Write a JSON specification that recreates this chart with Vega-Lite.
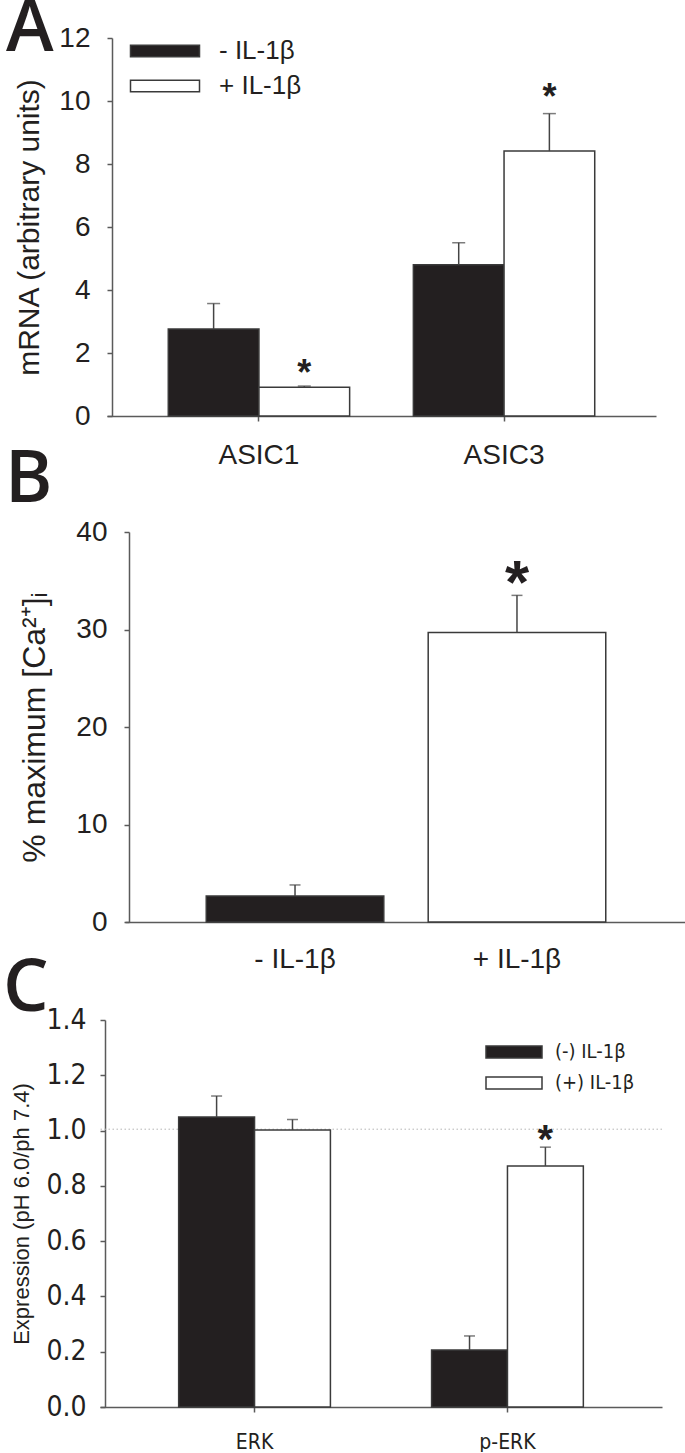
{
  "$schema": "https://vega.github.io/schema/vega-lite/v6.json",
  "padding": {"left": 3, "top": -7, "right": 0, "bottom": 0},
  "background": "white",
  "datasets": {
    "A": [
      {"gene": "ASIC1", "treat": "- IL-1β", "mean": 2.76, "upper": 3.57, "sig": null},
      {"gene": "ASIC1", "treat": "+ IL-1β", "mean": 0.91, "upper": 0.95, "sig": 1.64},
      {"gene": "ASIC3", "treat": "- IL-1β", "mean": 4.8, "upper": 5.5, "sig": null},
      {"gene": "ASIC3", "treat": "+ IL-1β", "mean": 8.41, "upper": 9.6, "sig": 10.4}
    ],
    "B": [
      {"treat": "- IL-1β", "mean": 2.67, "upper": 3.8, "sig": null},
      {"treat": "+ IL-1β", "mean": 29.7, "upper": 33.5, "sig": 35.9}
    ],
    "C": [
      {"prot": "ERK", "treat": "(-) IL-1β", "mean": 1.049, "upper": 1.125, "sig": null},
      {"prot": "ERK", "treat": "(+) IL-1β", "mean": 1.002, "upper": 1.04, "sig": null},
      {"prot": "p-ERK", "treat": "(-) IL-1β", "mean": 0.206, "upper": 0.257, "sig": null},
      {"prot": "p-ERK", "treat": "(+) IL-1β", "mean": 0.872, "upper": 0.94, "sig": 1.003}
    ],
    "ref": [{"level": 1.005}]
  },
  "config": {
    "view": {"stroke": null},
    "font": "Liberation Sans",
    "axis": {
      "domainColor": "#5a5a5a", "domainWidth": 1.5, "tickColor": "#5a5a5a", "tickWidth": 1.5, "tickSize": 5,
      "grid": false, "labelColor": "#231f20", "titleColor": "#231f20",
      "labelFont": "Liberation Sans", "titleFont": "Liberation Sans", "titleFontWeight": "normal"
    },
    "title": {"font": "Open Sans", "fontWeight": 600, "color": "#231f20", "fontSize": 72, "anchor": "start", "frame": "group", "offset": 0, "baseline": "alphabetic"}
  },
  "bounds": "flush",
  "spacing": 116,
  "resolve": {"scale": {"x": "independent", "xOffset": "independent", "y": "independent", "color": "independent"}, "legend": {"color": "independent"}, "axis": {"x": "independent", "y": "independent"}},
  "vconcat": [
    {
      "width": 556,
      "height": 378,
      "title": {"text": "A", "dx": -94, "dy": 46},
      "data": {"name": "A"},
      "encoding": {
        "x": {"field": "gene", "type": "nominal", "sort": ["ASIC1", "ASIC3"],
          "scale": {"range": [7, 556], "paddingInner": 0.26, "paddingOuter": 0.25},
          "axis": {"title": null, "labelAngle": 0, "labelFontSize": 28, "labelPadding": 20}},
        "xOffset": {"field": "treat", "type": "nominal", "sort": ["- IL-1β", "+ IL-1β"], "scale": {"paddingInner": 0, "paddingOuter": 0}}
      },
      "layer": [
        {
          "mark": {"type": "bar", "stroke": "#3a3a3a", "strokeWidth": 1.5},
          "encoding": {
            "y": {"field": "mean", "type": "quantitative", "title": "mRNA (arbitrary units)",
              "scale": {"domain": [0, 12]},
              "axis": {"values": [0, 2, 4, 6, 8, 10, 12], "offset": -12, "labelFontSize": 28, "labelPadding": 17,
                "titleFontSize": 30, "titleX": -74, "titleBaseline": "alphabetic"}},
            "color": {"field": "treat", "type": "nominal",
              "scale": {"domain": ["- IL-1β", "+ IL-1β"], "range": ["#231f20", "#ffffff"]},
              "legend": {"orient": "none", "legendX": 52, "legendY": 0, "title": null, "direction": "vertical",
                "symbolType": "M-3.45,-0.575H3.45V0.575H-3.45Z", "symbolSize": 400,
                "symbolStrokeColor": "#3a3a3a", "symbolStrokeWidth": 1.5, "symbolOpacity": 1,
                "labelFontSize": 26, "labelOffset": 41, "rowPadding": 9, "padding": 0, "labelColor": "#231f20",
                "encode": {"symbols": {"update": {"stroke": {"value": "#3a3a3a"}, "strokeWidth": {"value": 1.5}}}}}}
          }
        },
        {
          "mark": {"type": "rule", "stroke": "#444444", "strokeWidth": 1.5},
          "encoding": {"y": {"field": "mean", "type": "quantitative", "title": "mRNA (arbitrary units)"}, "y2": {"field": "upper"}}
        },
        {
          "mark": {"type": "tick", "orient": "horizontal", "size": 13, "thickness": 1.5, "color": "#444444"},
          "encoding": {"y": {"field": "upper", "type": "quantitative", "title": "mRNA (arbitrary units)"}}
        },
        {
          "transform": [{"filter": "isValid(datum.sig)"}],
          "mark": {"type": "text", "text": "*", "fontSize": 36, "fontWeight": "bold", "baseline": "alphabetic", "dy": 21, "color": "#231f20"},
          "encoding": {"y": {"field": "sig", "type": "quantitative", "title": "mRNA (arbitrary units)"}}
        }
      ]
    },
    {
      "bounds": "flush",
      "spacing": 98,
      "resolve": {"scale": {"x": "independent", "xOffset": "independent", "y": "independent", "color": "independent"}, "legend": {"color": "independent"}, "axis": {"x": "independent", "y": "independent"}},
      "vconcat": [
        {
          "width": 585,
          "height": 390,
          "title": {"text": "B", "dx": -95, "dy": 3},
          "data": {"name": "B"},
          "encoding": {
            "x": {"field": "treat", "type": "nominal", "sort": ["- IL-1β", "+ IL-1β"],
              "scale": {"range": [25, 587], "paddingInner": 0.2, "paddingOuter": 0.366},
              "axis": {"title": null, "labelAngle": 0, "ticks": false, "labelFontSize": 28, "labelPadding": 23}}
          },
          "layer": [
            {
              "mark": {"type": "bar", "stroke": "#3a3a3a", "strokeWidth": 1.5},
              "encoding": {
                "y": {"field": "mean", "type": "quantitative", "title": "% maximum [Ca²⁺]ᵢ",
                  "scale": {"domain": [0, 40]},
                  "axis": {"values": [0, 10, 20, 30, 40], "offset": -29, "labelFontSize": 28, "labelPadding": 17,
                    "titleFontSize": 32, "titleX": -85, "titleBaseline": "alphabetic"}},
                "color": {"field": "treat", "type": "nominal",
                  "scale": {"domain": ["- IL-1β", "+ IL-1β"], "range": ["#231f20", "#ffffff"]}, "legend": null}
              }
            },
            {
              "mark": {"type": "rule", "stroke": "#444444", "strokeWidth": 1.5},
              "encoding": {"y": {"field": "mean", "type": "quantitative", "title": "% maximum [Ca²⁺]ᵢ"}, "y2": {"field": "upper"}}
            },
            {
              "mark": {"type": "tick", "orient": "horizontal", "size": 11, "thickness": 1.5, "color": "#444444"},
              "encoding": {"y": {"field": "upper", "type": "quantitative", "title": "% maximum [Ca²⁺]ᵢ"}}
            },
            {
              "transform": [{"filter": "isValid(datum.sig)"}],
              "mark": {"type": "text", "text": "*", "fontSize": 62, "fontWeight": "bold", "baseline": "alphabetic", "dy": 31, "color": "#231f20"},
              "encoding": {"y": {"field": "sig", "type": "quantitative", "title": "% maximum [Ca²⁺]ᵢ"}}
            }
          ]
        },
        {
          "width": 562,
          "height": 387,
          "title": {"text": "C", "dx": -97, "dy": 24},
          "layer": [
            {
              "data": {"name": "ref"},
              "mark": {"type": "rule", "stroke": "#b5b5b5", "strokeWidth": 1, "strokeDash": [1.5, 2.5]},
              "encoding": {"y": {"field": "level", "type": "quantitative", "title": "Expression (pH 6.0/ph 7.4)"}}
            },
            {
              "data": {"name": "C"},
              "mark": {"type": "bar", "stroke": "#3a3a3a", "strokeWidth": 1.5},
              "encoding": {
                "x": {"field": "prot", "type": "nominal", "sort": ["ERK", "p-ERK"],
                  "scale": {"range": [0, 562], "paddingInner": 0.4, "paddingOuter": 0.311},
                  "axis": {"title": null, "labelAngle": 0, "labelFontSize": 21, "labelPadding": 19,
                    "labelFont": "Liberation Sans Narrow, Arial Narrow, DejaVu Sans Condensed, sans-serif"}},
                "xOffset": {"field": "treat", "type": "nominal", "sort": ["(-) IL-1β", "(+) IL-1β"], "scale": {"paddingInner": 0, "paddingOuter": 0}},
                "y": {"field": "mean", "type": "quantitative", "title": "Expression (pH 6.0/ph 7.4)",
                  "scale": {"domain": [0, 1.4]},
                  "axis": {"values": [0, 0.2, 0.4, 0.6, 0.8, 1.0, 1.2, 1.4], "format": ".1f", "offset": -5,
                    "labelFontSize": 28, "labelPadding": 14,
                    "labelFont": "Liberation Sans Narrow, Arial Narrow, DejaVu Sans Condensed, sans-serif",
                    "titleFontSize": 22, "titleX": -77, "titleBaseline": "alphabetic"}},
                "color": {"field": "treat", "type": "nominal",
                  "scale": {"domain": ["(-) IL-1β", "(+) IL-1β"], "range": ["#231f20", "#ffffff"]},
                  "legend": {"orient": "none", "legendX": 403, "legendY": 21, "title": null, "direction": "vertical",
                    "symbolType": "M-2.8,-0.6H2.8V0.6H-2.8Z", "symbolSize": 400,
                    "symbolStrokeColor": "#3a3a3a", "symbolStrokeWidth": 1.5, "symbolOpacity": 1,
                    "labelFontSize": 20, "labelOffset": 30, "rowPadding": 10, "padding": 0, "labelColor": "#231f20",
                    "labelFont": "Liberation Sans Narrow, Arial Narrow, DejaVu Sans Condensed, sans-serif",
                    "encode": {"symbols": {"update": {"stroke": {"value": "#3a3a3a"}, "strokeWidth": {"value": 1.5}}}}}}
              }
            },
            {
              "data": {"name": "C"},
              "mark": {"type": "rule", "stroke": "#444444", "strokeWidth": 1.5},
              "encoding": {
                "x": {"field": "prot", "type": "nominal", "sort": ["ERK", "p-ERK"]},
                "xOffset": {"field": "treat", "type": "nominal", "sort": ["(-) IL-1β", "(+) IL-1β"]},
                "y": {"field": "mean", "type": "quantitative", "title": "Expression (pH 6.0/ph 7.4)"}, "y2": {"field": "upper"}}
            },
            {
              "data": {"name": "C"},
              "mark": {"type": "tick", "orient": "horizontal", "size": 11, "thickness": 1.5, "color": "#444444"},
              "encoding": {
                "x": {"field": "prot", "type": "nominal", "sort": ["ERK", "p-ERK"]},
                "xOffset": {"field": "treat", "type": "nominal", "sort": ["(-) IL-1β", "(+) IL-1β"]},
                "y": {"field": "upper", "type": "quantitative", "title": "Expression (pH 6.0/ph 7.4)"}}
            },
            {
              "data": {"name": "C"},
              "transform": [{"filter": "isValid(datum.sig)"}],
              "mark": {"type": "text", "text": "*", "fontSize": 40, "fontWeight": "bold", "baseline": "alphabetic", "dy": 23, "color": "#231f20"},
              "encoding": {
                "x": {"field": "prot", "type": "nominal", "sort": ["ERK", "p-ERK"]},
                "xOffset": {"field": "treat", "type": "nominal", "sort": ["(-) IL-1β", "(+) IL-1β"]},
                "y": {"field": "sig", "type": "quantitative", "title": "Expression (pH 6.0/ph 7.4)"}}
            }
          ]
        }
      ]
    }
  ]
}
